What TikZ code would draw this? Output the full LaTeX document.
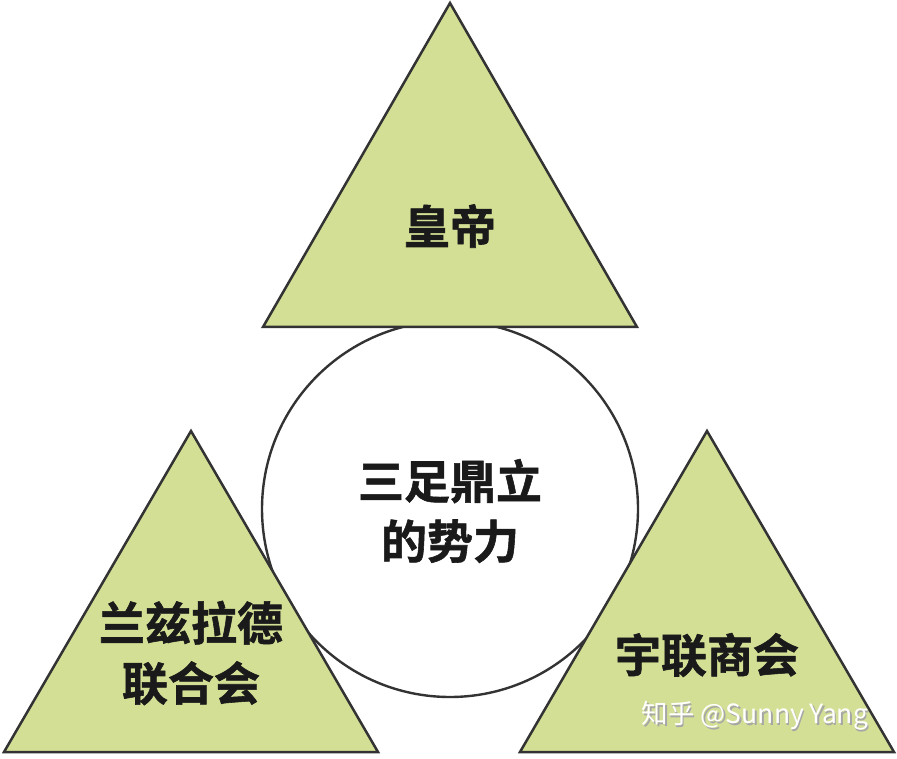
\documentclass[tikz,border=0pt]{standalone}
\usepackage{fontspec}
\setmainfont{Noto Sans CJK SC}
\newfontfamily\cjkbold{Noto Sans CJK SC Bold}[FakeBold=1.2]
\usetikzlibrary{positioning}
\definecolor{leaf}{RGB}{211,223,149}
\definecolor{edgegray}{RGB}{51,51,51}
\definecolor{inkblack}{RGB}{26,26,26}
\tikzset{
  tri/.style={draw=edgegray, fill=leaf, line width=2.5pt, line join=miter},
  ring/.style={draw=edgegray, fill=white, line width=2.4pt},
  caption/.style={font=\cjkbold\fontsize{46}{60}\selectfont, text=inkblack, align=center, inner sep=0pt},
  wmark/.style={font=\fontsize{26.5}{30}\selectfont, inner sep=0pt}
}

\begin{document}
\begin{tikzpicture}[x=1pt, y=-1pt]
\useasboundingbox (0,0) rectangle (897,759);

% centre circle first, triangles lie over it
\draw[ring] (450,509) circle (188);

% the three sides
\draw[tri] (450,3) -- (263,327) -- (637,327) -- cycle;
\draw[tri] (191,431) -- (4,752) -- (378,752) -- cycle;
\draw[tri] (707,431) -- (520,752) -- (894,752) -- cycle;

\node[caption] (center) at (450,511) {三足鼎立\\的势力};
\node[caption] (emperor) at (450,226) {皇帝};
\node[caption] (lanz) at (191,653) {兰兹拉德\\联合会};
\node[caption] (ulc) at (707,655) {宇联商会};

% watermark
\node[wmark, text=gray!70] (wmshadow) at (756.5,717.5) {知乎 @Sunny Yang};
\node[wmark, text=white] (wm) at (755,716) {知乎 @Sunny Yang};
\end{tikzpicture}
\end{document}
